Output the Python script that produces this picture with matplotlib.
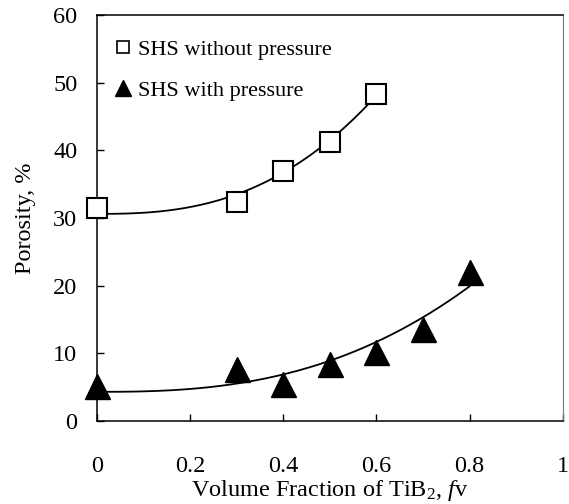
import numpy as np
import matplotlib
matplotlib.use('Agg')
import matplotlib.pyplot as plt
from matplotlib.lines import Line2D

plt.rcParams['font.family'] = ['Liberation Serif', 'DejaVu Serif']
plt.rcParams['mathtext.fontset'] = 'custom'
plt.rcParams['mathtext.rm'] = 'Liberation Serif'
plt.rcParams['mathtext.it'] = 'Liberation Serif:italic'

# porosity vs TiB2 volume fraction
fv_nopress = [0.0, 0.3, 0.4, 0.5, 0.6]
por_nopress = [31.5, 32.4, 36.9, 41.2, 48.4]
fv_press = [0.0, 0.3, 0.4, 0.5, 0.6, 0.7, 0.8]
por_press = [5.1, 7.7, 5.4, 8.4, 10.2, 13.6, 22.0]

# exponent of the power-law trend lines
trend_power = 2.6

xticks = [0, 0.2, 0.4, 0.6, 0.8, 1]
xticklabels = ['0', '0.2', '0.4', '0.6', '0.8', '1']
yticks = [0, 10, 20, 30, 40, 50, 60]


def trend(x, y, n):
    # least-squares fit of y = a + b*x**n
    x = np.asarray(x)
    y = np.asarray(y)
    A = np.vstack([np.ones_like(x), x**n]).T
    coef, *_ = np.linalg.lstsq(A, y, rcond=None)
    xs = np.linspace(x.min(), x.max(), 200)
    return xs, coef[0] + coef[1]*xs**n


fig = plt.figure(figsize=(5.69, 5.04), dpi=100)
ax = fig.add_axes([0.170, 0.165, 0.819, 0.805])

xs, ys = trend(fv_nopress, por_nopress, trend_power)
ax.plot(xs, ys, color='black', lw=1.3, zorder=2)
xs, ys = trend(fv_press, por_press, trend_power)
ax.plot(xs, ys, color='black', lw=1.3, zorder=2)

ax.plot(fv_nopress, por_nopress, linestyle='none', marker='s', markersize=14,
        markerfacecolor='white', markeredgecolor='black', markeredgewidth=1.5,
        zorder=3, clip_on=False)
ax.plot(fv_press, por_press, linestyle='none', marker='^', markersize=18,
        color='black', zorder=3, clip_on=False)

ax.set_xlim(0, 1)
ax.set_ylim(0, 60)
ax.set_xticks(xticks)
ax.set_xticklabels(xticklabels)
ax.set_yticks(yticks)
ax.tick_params(direction='in', length=5, width=1, labelsize=17.5)
ax.tick_params(axis='x', pad=25)
ax.tick_params(axis='y', pad=14)

for s in ['left', 'bottom', 'top']:
    ax.spines[s].set_linewidth(1.1)
ax.spines['right'].set_color('#777777')
ax.spines['right'].set_linewidth(0.8)
ax.spines['right'].set_linestyle((0, (3, 1)))

ax.set_xlabel(r'Volume Fraction of TiB$_2$, $f$v', fontsize=17.5, labelpad=1)
ax.set_ylabel('Porosity, %', fontsize=17.5, labelpad=12)

handles = [
    Line2D([], [], linestyle='none', marker='s', markersize=9,
           markerfacecolor='white', markeredgecolor='black', markeredgewidth=1.2),
    Line2D([], [], linestyle='none', marker='^', markersize=11, color='black'),
]
ax.legend(handles, ['SHS without pressure', 'SHS with pressure'],
          loc='upper left', bbox_to_anchor=(0.032, 0.94), frameon=False,
          fontsize=16, handlelength=1.0, handletextpad=0.2, borderpad=0,
          borderaxespad=0, labelspacing=0.9)

fig.savefig('out.png', dpi=100)
